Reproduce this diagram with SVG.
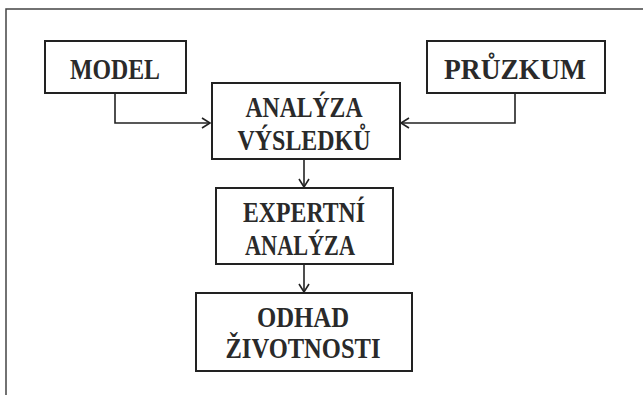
<svg xmlns="http://www.w3.org/2000/svg" width="643" height="395" viewBox="0 0 643 395">
<style>
.box{fill:#fff;stroke:#222;stroke-width:2}
.lbl{font-family:"Liberation Serif","DejaVu Serif",serif;font-size:30px;font-weight:bold;fill:#2a2a2a;text-anchor:middle}
.con{fill:none;stroke:#222;stroke-width:1.6}
</style>
<defs>
<marker id="arr" markerWidth="12" markerHeight="12" refX="10" refY="6" orient="auto" markerUnits="userSpaceOnUse">
<path d="M2,1 L10,6 L2,11" fill="none" stroke="#222" stroke-width="1.6"/>
</marker>
</defs>
<rect width="643" height="395" fill="#fff"/>
<path d="M6,395 V9 H643" fill="none" stroke="#444" stroke-width="1.5"/>
<g id="connectors">
<path class="con" d="M115,93 V123 H210" marker-end="url(#arr)"/>
<path class="con" d="M515,93 V123 H401" marker-end="url(#arr)"/>
<path class="con" d="M304,159 V187" marker-end="url(#arr)"/>
<path class="con" d="M304,264 V292" marker-end="url(#arr)"/>
</g>
<g id="model">
<rect class="box" x="45" y="41" width="141" height="52"/>
<text class="lbl" x="115" y="79" textLength="90" lengthAdjust="spacingAndGlyphs">MODEL</text>
</g>
<g id="pruzkum">
<rect class="box" x="427" y="41" width="178" height="52"/>
<text class="lbl" x="515" y="79" textLength="142" lengthAdjust="spacingAndGlyphs">PRŮZKUM</text>
</g>
<g id="analyza-vysledku">
<rect class="box" x="212" y="83" width="188" height="76"/>
<text class="lbl" x="304" y="117" textLength="117" lengthAdjust="spacingAndGlyphs">ANALÝZA</text>
<text class="lbl" x="304" y="150" textLength="133" lengthAdjust="spacingAndGlyphs">VÝSLEDKŮ</text>
</g>
<g id="expertni-analyza">
<rect class="box" x="216" y="188" width="177" height="76"/>
<text class="lbl" x="304" y="222" textLength="122" lengthAdjust="spacingAndGlyphs">EXPERTNÍ</text>
<text class="lbl" x="300" y="255" textLength="110" lengthAdjust="spacingAndGlyphs">ANALÝZA</text>
</g>
<g id="odhad-zivotnosti">
<rect class="box" x="196" y="293" width="216" height="78"/>
<text class="lbl" x="303" y="327" textLength="92" lengthAdjust="spacingAndGlyphs">ODHAD</text>
<text class="lbl" x="303" y="358" textLength="155" lengthAdjust="spacingAndGlyphs">ŽIVOTNOSTI</text>
</g>
</svg>
